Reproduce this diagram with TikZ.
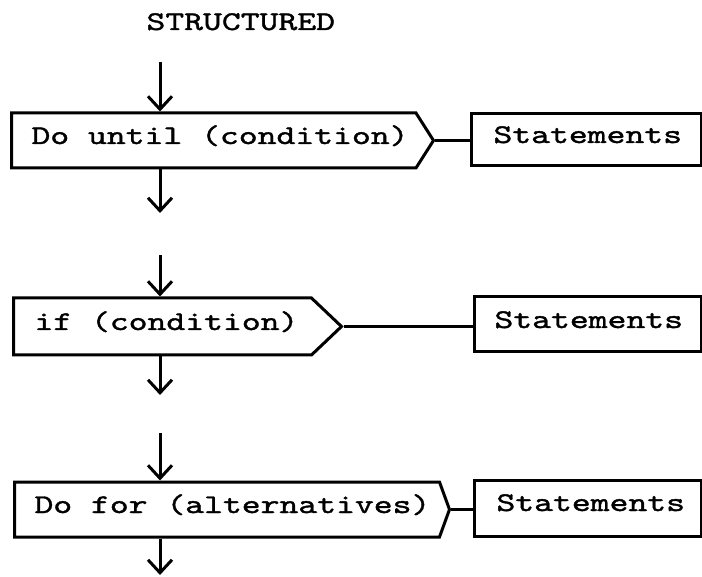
\documentclass[tikz,border=0pt]{standalone}
\usepackage{fontspec}
\usetikzlibrary{arrows.meta,shapes.symbols}

% wide typewriter lettering
\newfontfamily\typewriterface{lmmono10-regular.otf}[FakeStretch=1.33, FakeBold=1.4]
\newcommand\typewriter{\typewriterface\fontsize{27}{31}\selectfont}

\begin{document}
\begin{tikzpicture}[x=1pt, y=-1pt, line width=3pt,
  lbl/.style={inner sep=0pt, anchor=base west, font=\typewriter},
  flowbox/.style={draw, signal, signal to=east, minimum height=55pt,
                  inner sep=0pt, anchor=west},
  stbox/.style={draw, rectangle, inner sep=0pt, anchor=north west},
  flow/.style={-{Straight Barb[length=13pt,width=24pt]}},
]
\useasboundingbox (0,0) rectangle (702,577);

% heading
\node[lbl] (title) at (145,30) {STRUCTURED};

% construct boxes with pointed right ends
\node[flowbox, minimum width=422pt, signal pointer angle=115] (b1) at (10,140.5) {};
\node[flowbox, minimum width=328pt, minimum height=57pt, signal pointer angle=87] (b2) at (12,326.5) {};
\node[flowbox, minimum width=435pt, signal pointer angle=140] (b3) at (13,509.5) {};

\node[lbl] (t1) at (30,144) {Do until (condition)};
\node[lbl] (t2) at (33,330) {if (condition)};
\node[lbl] (t3) at (33,513) {Do for (alternatives)};

% statement boxes
\node[stbox, minimum width=230pt, minimum height=52pt] (s1) at (470,112) {};
\node[stbox, minimum width=227pt, minimum height=55pt] (s2) at (473,295) {};
\node[stbox, minimum width=227pt, minimum height=56pt] (s3) at (473,479) {};

\node[lbl] (st1) at (492,143) {Statements};
\node[lbl] (st2) at (493,328) {Statements};
\node[lbl] (st3) at (495,511) {Statements};

% links from each construct to its statements
\draw (b1.east) -- (b1.east -| s1.west);
\draw (b2.east) -- (b2.east -| s2.west);
\draw (b3.east) -- (b3.east -| s3.west);

% control flow
\coordinate (in1) at (160,62);
\coordinate (out1) at (160,213);
\coordinate (in2) at (160,255);
\coordinate (out2) at (160,395);
\coordinate (in3) at (160,433);
\coordinate (out3) at (160,575);

\draw[flow] (in1) -- (in1 |- b1.north);
\draw[flow] (out1 |- b1.south) -- (out1);
\draw[flow] (in2) -- (in2 |- b2.north);
\draw[flow] (out2 |- b2.south) -- (out2);
\draw[flow] (in3) -- (in3 |- b3.north);
\draw[flow] (out3 |- b3.south) -- (out3);
\end{tikzpicture}
\end{document}
